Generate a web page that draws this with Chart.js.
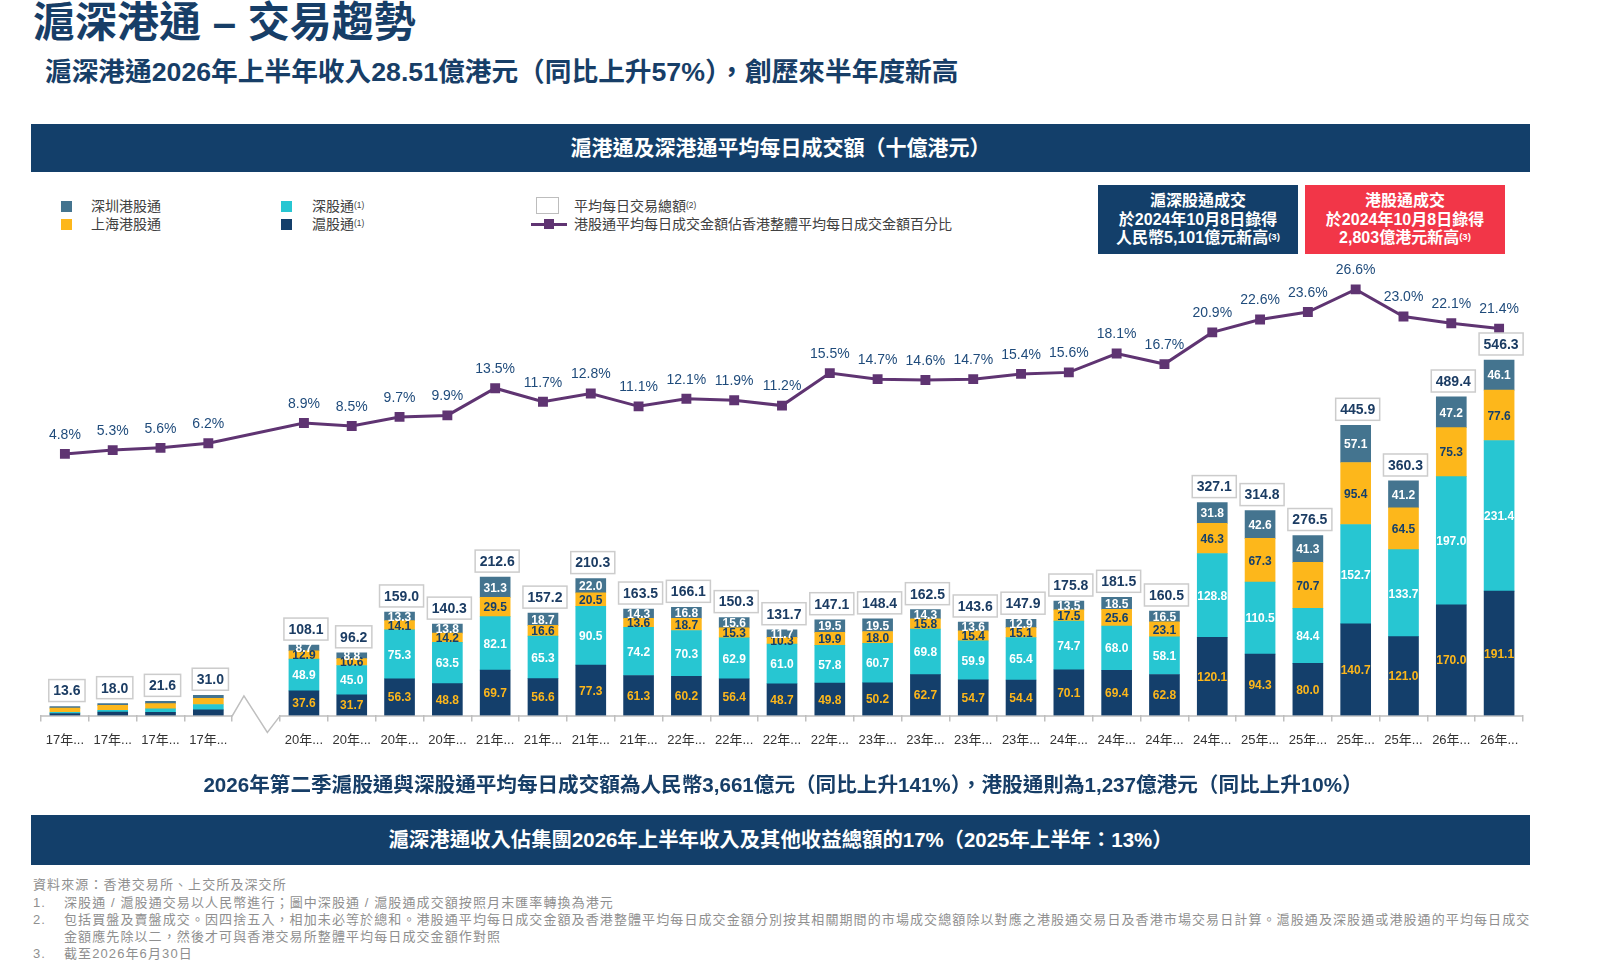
<!DOCTYPE html>
<html lang="zh-Hant">
<head>
<meta charset="utf-8">
<title>滬深港通 – 交易趨勢</title>
<script src="https://cdn.jsdelivr.net/npm/chart.js@4.4.1/dist/chart.umd.min.js"></script>
<style>
    body { margin: 0; background: #fff; }
    #page { position: relative; width: 1616px; height: 978px; overflow: hidden;
        font-family: "Liberation Sans", "Noto Sans CJK TC", sans-serif; }
    .abs { position: absolute; white-space: nowrap; }
    #title { left: 33px; top: 0; font-size: 42px; line-height: 46px; font-weight: bold; color: #173E67; }
    #subtitle { left: 45px; top: 57px; font-size: 26.7px; line-height: 30px; font-weight: bold; color: #173E67; }
    .band { left: 31px; width: 1499px; background: #133F6A; color: #fff; font-weight: bold; text-align: center; }
    #band1 { top: 124px; height: 48px; line-height: 48px; font-size: 21px; }
    #band2 { top: 815px; height: 50px; line-height: 50px; font-size: 20.4px; }
    #note { left: 31px; width: 1504px; top: 771px; line-height: 28px; font-size: 20.6px; font-weight: bold; color: #173E67; text-align: center; }
    .lg { font-size: 14px; line-height: 18px; color: #404040; }
    .sw { position: absolute; width: 11px; height: 11px; }
    sup { font-size: 0.6em; vertical-align: top; position: relative; top: -0.1em; }
    .callout { top: 185px; width: 200px; height: 69px; color: #fff; font-size: 16px; font-weight: bold;
        line-height: 18.5px; text-align: center; padding-top: 7px; box-sizing: border-box; }
    .fn { font-size: 13px; line-height: 17px; color: #8F8F8F; letter-spacing: 1.1px; }
    #chartBox { position: absolute; left: 0; top: 250px; width: 1616px; height: 530px; }
</style>
</head>
<body>
<div id="page">
    <div id="title" class="abs">滬深港通 – 交易趨勢</div>
    <div id="subtitle" class="abs">滬深港通2026年上半年收入28.51億港元（同比上升57%），創歷來半年度新高</div>
    <div id="band1" class="abs band">滬港通及深港通平均每日成交額（十億港元）</div>

    <!-- legend -->
    <div class="sw" style="left:61px;top:201px;background:#44748F"></div>
    <div class="abs lg" style="left:91px;top:197px">深圳港股通</div>
    <div class="sw" style="left:61px;top:219px;background:#FDB71B"></div>
    <div class="abs lg" style="left:91px;top:215px">上海港股通</div>
    <div class="sw" style="left:281px;top:201px;background:#27C6D2"></div>
    <div class="abs lg" style="left:312px;top:197px">深股通<sup>(1)</sup></div>
    <div class="sw" style="left:281px;top:219px;background:#143F6B"></div>
    <div class="abs lg" style="left:312px;top:215px">滬股通<sup>(1)</sup></div>
    <div class="abs" style="left:536px;top:197px;width:21px;height:15px;border:1.5px solid #BDBDBD;background:#fff"></div>
    <div class="abs lg" style="left:574px;top:197px">平均每日交易總額<sup>(2)</sup></div>
    <div class="abs" style="left:531px;top:223px;width:36px;height:3px;background:#5F3472"></div>
    <div class="abs" style="left:544px;top:219px;width:10px;height:10px;background:#5F3472"></div>
    <div class="abs lg" style="left:574px;top:215px">港股通平均每日成交金額佔香港整體平均每日成交金額百分比</div>

    <!-- callouts -->
    <div class="abs callout" style="left:1098px;background:#133F6A">滬深股通成交<br>於2024年10月8日錄得<br>人民幣5,101億元新高<sup>(3)</sup></div>
    <div class="abs callout" style="left:1305px;background:#F23648">港股通成交<br>於2024年10月8日錄得<br>2,803億港元新高<sup>(3)</sup></div>

    <div id="chartBox"><canvas id="trade-chart"></canvas></div>

    <div id="note" class="abs">2026年第二季滬股通與深股通平均每日成交額為人民幣3,661億元（同比上升141%），港股通則為1,237億港元（同比上升10%）</div>
    <div id="band2" class="abs band">滬深港通收入佔集團2026年上半年收入及其他收益總額的17%（2025年上半年：13%）</div>

    <!-- footnotes -->
    <div class="abs fn" style="left:33px;top:876px">資料來源：香港交易所、上交所及深交所</div>
    <div class="abs fn" style="left:33px;top:894px">1.</div>
    <div class="abs fn" style="left:64px;top:894px">深股通 / 滬股通交易以人民幣進行；圖中深股通 / 滬股通成交額按照月末匯率轉換為港元</div>
    <div class="abs fn" style="left:33px;top:911px">2.</div>
    <div class="abs fn" style="left:64px;top:911px">包括買盤及賣盤成交。因四捨五入，相加未必等於總和。港股通平均每日成交金額及香港整體平均每日成交金額分別按其相關期間的市場成交總額除以對應之港股通交易日及香港市場交易日計算。滬股通及深股通或港股通的平均每日成交</div>
    <div class="abs fn" style="left:64px;top:928px">金額應先除以二，然後才可與香港交易所整體平均每日成交金額作對照</div>
    <div class="abs fn" style="left:33px;top:945px">3.</div>
    <div class="abs fn" style="left:64px;top:945px">截至2026年6月30日</div>
</div>

<script>
    // Data (十億港元 / %), index 4 is the axis break
    var categories = ['17年第一季', '17年第二季', '17年第三季', '17年第四季', '',
        '20年第一季', '20年第二季', '20年第三季', '20年第四季',
        '21年第一季', '21年第二季', '21年第三季', '21年第四季',
        '22年第一季', '22年第二季', '22年第三季', '22年第四季',
        '23年第一季', '23年第二季', '23年第三季', '23年第四季',
        '24年第一季', '24年第二季', '24年第三季', '24年第四季',
        '25年第一季', '25年第二季', '25年第三季', '25年第四季',
        '26年第一季', '26年第二季'];

    var shNorth = [2.9, 5.2, 4.8, 8.4, null, 37.6, 31.7, 56.3, 48.8, 69.7, 56.6, 77.3, 61.3, 60.2, 56.4, 48.7,
        49.8, 50.2, 62.7, 54.7, 54.4, 70.1, 69.4, 62.8, 120.1, 94.3, 80.0, 140.7, 121.0, 170.0, 191.1];
    var szNorth = [2.0, 2.7, 5.2, 8.4, null, 48.9, 45.0, 75.3, 63.5, 82.1, 65.3, 90.5, 74.2, 70.3, 62.9, 61.0,
        57.8, 60.7, 69.8, 59.9, 65.4, 74.7, 68.0, 58.1, 128.8, 110.5, 84.4, 152.7, 133.7, 197.0, 231.4];
    var shSouth = [6.2, 7.4, 8.0, 9.5, null, 12.9, 10.6, 14.1, 14.2, 29.5, 16.6, 20.5, 13.6, 18.7, 15.3, 10.3,
        19.9, 18.0, 15.8, 15.4, 15.1, 17.5, 25.6, 23.1, 46.3, 67.3, 70.7, 95.4, 64.5, 75.3, 77.6];
    var szSouth = [2.5, 2.7, 3.6, 4.7, null, 8.7, 8.8, 13.3, 13.8, 31.3, 18.7, 22.0, 14.3, 16.8, 15.6, 11.7,
        19.5, 19.5, 14.3, 13.6, 12.9, 13.5, 18.5, 16.5, 31.8, 42.6, 41.3, 57.1, 41.2, 47.2, 46.1];
    var totals = [13.6, 18.0, 21.6, 31.0, null, 108.1, 96.2, 159.0, 140.3, 212.6, 157.2, 210.3, 163.5, 166.1, 150.3, 131.7,
        147.1, 148.4, 162.5, 143.6, 147.9, 175.8, 181.5, 160.5, 327.1, 314.8, 276.5, 445.9, 360.3, 489.4, 546.3];
    var hkShare = [4.8, 5.3, 5.6, 6.2, null, 8.9, 8.5, 9.7, 9.9, 13.5, 11.7, 12.8, 11.1, 12.1, 11.9, 11.2,
        15.5, 14.7, 14.6, 14.7, 15.4, 15.6, 18.1, 16.7, 20.9, 22.6, 23.6, 26.6, 23.0, 22.1, 21.4];

    var NAVY = '#143F6B', CYAN = '#27C6D2', YELLOW = '#FDB71B', STEEL = '#44748F', PURPLE = '#5F3472';
    var FONT = '"Liberation Sans", "Noto Sans CJK TC", sans-serif';
    var BREAK = 4;
    var segLabelColors = [YELLOW, '#FFFFFF', NAVY, '#FFFFFF'];

    // Value labels: segments, totals and line
    var labelPlugin = {
        id: 'valueLabels',
        afterDatasetsDraw: function (chart) {
            var ctx = chart.ctx;
            var yScale = chart.scales.y;
            ctx.save();
            ctx.textAlign = 'center';
            ctx.textBaseline = 'middle';

            // segment labels
            ctx.font = 'bold 12px ' + FONT;
            for (var d = 0; d < 4; d++) {
                var meta = chart.getDatasetMeta(d);
                var values = chart.data.datasets[d].data;
                meta.data.forEach(function (el, i) {
                    if (i <= BREAK || values[i] == null) return;
                    ctx.fillStyle = segLabelColors[d];
                    ctx.fillText(values[i].toFixed(1), el.x, (el.y + el.base) / 2 + 1);
                });
            }

            // total boxes
            ctx.font = 'bold 14px ' + FONT;
            var barMeta = chart.getDatasetMeta(0);
            totals.forEach(function (t, i) {
                if (t == null) return;
                var x = barMeta.data[i].x + 2;
                var top = yScale.getPixelForValue(t);
                var txt = t.toFixed(1);
                var w = ctx.measureText(txt).width + 9;
                var h = 22;
                var by = top - 5 - h;
                ctx.fillStyle = '#FFFFFF';
                ctx.fillRect(x - w / 2, by, w, h);
                ctx.strokeStyle = '#CCCCCC';
                ctx.lineWidth = 1.5;
                ctx.strokeRect(x - w / 2, by, w, h);
                ctx.fillStyle = '#1B3C63';
                ctx.fillText(txt, x, by + h / 2 + 1);
            });

            // line labels
            ctx.font = '14px ' + FONT;
            ctx.fillStyle = '#1F4B7B';
            var lineMeta = chart.getDatasetMeta(4);
            lineMeta.data.forEach(function (pt, i) {
                if (hkShare[i] == null) return;
                ctx.fillText(hkShare[i].toFixed(1) + '%', pt.x, pt.y - 19);
            });
            ctx.restore();
        }
    };

    // X axis line with break mark
    var axisPlugin = {
        id: 'brokenAxis',
        beforeDatasetsDraw: function (chart) {
            var ctx = chart.ctx;
            var area = chart.chartArea;
            var x = chart.scales.x;
            var step = x.getPixelForValue(1) - x.getPixelForValue(0);
            var l = x.getPixelForValue(BREAK) - step / 2;
            var r = l + step;
            var b = area.bottom + 0.5;
            ctx.save();
            ctx.strokeStyle = '#BFBFBF';
            ctx.lineWidth = 1.5;
            ctx.beginPath();
            ctx.moveTo(area.left, b);
            ctx.lineTo(l, b);
            ctx.lineTo(l + step * 0.245, b - 20);
            ctx.lineTo(l + step * 0.735, b + 16.5);
            ctx.lineTo(r, b);
            ctx.lineTo(area.right, b);
            ctx.stroke();
            ctx.restore();
        }
    };

    function barSet(label, data, color) {
        return {
            type: 'bar',
            label: label,
            data: data,
            backgroundColor: color,
            barThickness: 30,
            stack: 'total',
            order: 1,
            yAxisID: 'y'
        };
    }

    var ctx1 = document.getElementById('trade-chart').getContext('2d');
    var tradeChart = new Chart(ctx1, {
        data: {
            labels: categories,
            datasets: [
                barSet('滬股通', shNorth, NAVY),
                barSet('深股通', szNorth, CYAN),
                barSet('上海港股通', shSouth, YELLOW),
                barSet('深圳港股通', szSouth, STEEL),
                {
                    type: 'line',
                    label: '港股通平均每日成交金額佔香港整體平均每日成交金額百分比',
                    data: hkShare,
                    yAxisID: 'y2',
                    order: 0,
                    borderColor: PURPLE,
                    borderWidth: 3,
                    pointStyle: 'rect',
                    pointRadius: 7,
                    pointHoverRadius: 7,
                    pointBackgroundColor: PURPLE,
                    pointBorderWidth: 0,
                    spanGaps: true,
                    tension: 0,
                    segment: {
                        borderDash: function (c) {
                            return c.p1DataIndex - c.p0DataIndex > 1 ? [6, 4] : undefined;
                        }
                    }
                }
            ]
        },
        options: {
            responsive: true,
            maintainAspectRatio: false,
            animation: false,
            layout: { padding: { left: 41, right: 93, top: 10, bottom: 21 } },
            plugins: {
                legend: { display: false },
                tooltip: { enabled: false }
            },
            scales: {
                x: {
                    stacked: true,
                    offset: true,
                    border: { display: false },
                    grid: {
                        offset: true,
                        drawOnChartArea: false,
                        drawTicks: true,
                        tickLength: 6,
                        color: '#BFBFBF',
                        lineWidth: 1.5
                    },
                    ticks: {
                        autoSkip: false,
                        maxRotation: 0,
                        padding: 11,
                        color: '#333333',
                        font: { family: FONT, size: 13 },
                        callback: function (value) {
                            var s = this.getLabelForValue(value);
                            return s ? s.slice(0, 3) + '...' : '';
                        }
                    }
                },
                y: { display: false, stacked: true, min: 0, max: 700 },
                y2: { display: false, min: -29.85, max: 30.49 }
            }
        },
        plugins: [axisPlugin, labelPlugin]
    });
</script>
</body>
</html>
